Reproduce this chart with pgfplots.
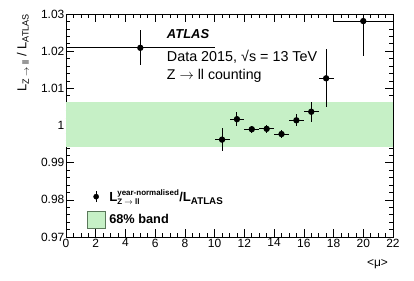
\documentclass[border=0pt]{standalone}
\usepackage{fontspec}
\setmainfont{Liberation Sans}
\usepackage{pgfplots}
\pgfplotsset{compat=1.18}
\usepackage{pgfplotstable}
\definecolor{bandgreen}{RGB}{198,240,198}
\definecolor{bandedge}{RGB}{90,120,90}
\pgfplotstableread{
x y ex ey
5 1.0209 5 0.0047
10.5 0.9962 0.5 0.0030
11.5 1.0017 0.5 0.0019
12.5 0.9990 0.5 0.0010
13.5 0.9991 0.5 0.0010
14.5 0.9977 0.5 0.0011
15.5 1.0014 0.5 0.0016
16.5 1.0037 0.5 0.0027
17.5 1.0127 0.5 0.0078
20 1.0281 2 0.0095
}\datatab
\newcommand{\sz}[1]{\fontsize{#1}{#1}\selectfont}
\begin{document}
\begin{tikzpicture}
\begin{axis}[
  scale only axis, width=327bp, height=223bp,
  at={(0,0)}, anchor=south west,
  xmin=0, xmax=22, ymin=0.97, ymax=1.03,
  xtick={0,2,...,22}, minor x tick num=3,
  ytick={0.97,0.98,0.99,1,1.01,1.02,1.03},
  yticklabels={0.97,0.98,0.99,1,1.01,1.02,1.03},
  minor ytick={0.972,0.974,0.976,0.978,0.982,0.984,0.986,0.988,0.992,0.994,0.996,0.998,1.002,1.004,1.006,1.008,1.012,1.014,1.016,1.018,1.022,1.024,1.026,1.028},
  major tick length=8bp, minor tick length=4bp,
  tick style={black, line width=0.6pt},
  axis line style={line width=0.6pt},
  /pgf/number format/assume math mode=true,
  ticklabel style={font=\sz{12}},
  yticklabel style={inner xsep=1.5bp},
  xticklabel style={inner ysep=1.5bp},
  xlabel={<μ>},
  xlabel style={font=\sz{12}, at={(axis description cs:0.985,-0.121)}, anchor=east, inner sep=0pt},
  ylabel={L\textsubscript{Z $\rightarrow$ ll} / L\textsubscript{ATLAS}},
  ylabel style={font=\sz{13}, at={(axis description cs:-0.113,1.003)}, anchor=south east, inner sep=0pt},
  legend style={at={(axis cs:1.4,0.9832)}, anchor=north west, draw=none, fill=none, font=\bfseries\sz{12.8}, row sep=6bp, inner sep=0pt, nodes={inner xsep=4bp}},
  legend cell align=left,
  clip=true,
]
\addlegendimage{legend image code/.code={\draw[black, line width=1.1pt] (8.8bp,-5.5bp) -- (8.8bp,5.5bp); \fill[black] (8.8bp,0bp) circle (2.6bp);}}
\addlegendentry{{\sz{13.2}L}$^{\mbox{\bfseries\sz{8}year-normalised}}_{\mbox{\bfseries\sz{8}Z $\rightarrow$ ll}}$/{\sz{13.2}L}\raisebox{-0.25em}{\bfseries\sz{9.8}ATLAS}}
\addlegendimage{legend image code/.code={\draw[bandedge, fill=bandgreen, line width=0.7pt] (0bp,-8.3bp) rectangle (17.6bp,8.3bp);}}
\addlegendentry{68\% band}
\addplot[fill=bandgreen, draw=none, forget plot] coordinates {(0,0.9943) (22,0.9943) (22,1.0063) (0,1.0063)} -- cycle;
\addplot[black, only marks, mark=*, mark size=2.6bp, line width=1.1pt, forget plot,
  error bars/.cd, x dir=both, x explicit, y dir=both, y explicit, error mark=none,
  error bar style={line width=1.1pt}]
  table[x=x, y=y, x error=ex, y error=ey] {\datatab};
\node[anchor=base west, font=\bfseries\itshape\sz{13}, inner sep=0pt] at (axis cs:6.78,1.0233) {ATLAS};
\node[anchor=base west, font=\sz{14.4}, inner sep=0pt] at (axis cs:6.78,1.0173) {Data 2015, √s = 13 TeV};
\node[anchor=base west, font=\sz{14.2}, inner sep=0pt] at (axis cs:6.78,1.0125) {Z $\rightarrow$ ll counting};
\end{axis}
\path[use as bounding box] (-66bp,-44bp) rectangle (348bp,237bp);
\end{tikzpicture}
\end{document}
